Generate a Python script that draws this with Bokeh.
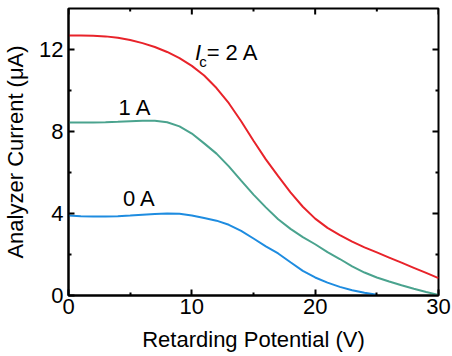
import math
from bokeh.plotting import figure
from bokeh.models import Range1d, Label, FixedTicker
from bokeh.embed import file_html
from bokeh.resources import INLINE

# Retarding potential (V)
v_2a = list(range(0, 31))
v_1a = list(range(0, 31))
v_0a = list(range(0, 26))

# Analyzer current (uA)
i_2a = [12.68, 12.68, 12.67, 12.64, 12.57, 12.46, 12.31, 12.12, 11.88, 11.58,
        11.2, 10.73, 10.12, 9.38, 8.5, 7.55, 6.64, 5.82, 5.03, 4.33,
        3.75, 3.3, 2.95, 2.63, 2.35, 2.1, 1.85, 1.6, 1.35, 1.1, 0.85]
i_1a = [8.44, 8.44, 8.44, 8.45, 8.47, 8.5, 8.53, 8.53, 8.45, 8.25,
        7.9, 7.42, 6.92, 6.3, 5.6, 4.92, 4.3, 3.72, 3.25, 2.85,
        2.5, 2.12, 1.78, 1.42, 1.12, 0.88, 0.68, 0.5, 0.33, 0.17, 0.03]
i_0a = [3.9, 3.87, 3.85, 3.85, 3.87, 3.9, 3.94, 3.98, 4.0, 3.99,
        3.9, 3.78, 3.65, 3.45, 3.15, 2.78, 2.4, 2.05, 1.62, 1.2,
        0.88, 0.63, 0.42, 0.26, 0.13, 0.04]

x_major = [0, 10, 20, 30]
x_minor = [5, 15, 25]
y_major = [0, 4, 8, 12]
y_minor = [2, 6, 10]

FONT = "Liberation Sans"
FS = "22px"
X0, X1, Y0, Y1 = 0, 30, 0, 14

p = figure(width=452, height=356, output_backend="svg", toolbar_location=None,
           x_range=Range1d(X0, X1), y_range=Range1d(Y0, Y1),
           min_border_left=68, min_border_right=14, min_border_top=8, min_border_bottom=61,
           x_axis_label="Retarding Potential (V)", y_axis_label="Analyzer Current (\u03bcA)")
p.xgrid.visible = False
p.ygrid.visible = False
p.outline_line_color = "black"
p.outline_line_width = 2
p.background_fill_color = "white"
p.border_fill_color = "white"

def style(ax, ticker):
    ax.ticker = ticker
    ax.axis_line_color = "black"
    ax.axis_line_width = 2
    ax.major_tick_in = 6
    ax.major_tick_out = 0
    ax.minor_tick_in = 3
    ax.minor_tick_out = 0
    ax.major_tick_line_width = 2
    ax.minor_tick_line_width = 2
    ax.major_label_text_font = FONT
    ax.major_label_text_font_size = FS
    ax.major_label_text_color = "black"
    ax.axis_label_text_font = FONT
    ax.axis_label_text_font_size = FS
    ax.axis_label_text_font_style = "normal"
    ax.axis_label_text_color = "black"

style(p.xaxis[0], FixedTicker(ticks=x_major, minor_ticks=x_minor))
style(p.yaxis[0], FixedTicker(ticks=y_major, minor_ticks=y_minor))
p.xaxis[0].major_label_standoff = 3
p.xaxis[0].axis_label_standoff = 10
p.yaxis[0].major_label_standoff = 5
p.yaxis[0].axis_label_standoff = 8

# inward ticks on the top and right frame edges
p.ray(x=x_major, y=[Y1] * len(x_major), length=6, length_units="screen",
      angle=-math.pi / 2, line_color="black", line_width=2)
p.ray(x=x_minor, y=[Y1] * len(x_minor), length=3, length_units="screen",
      angle=-math.pi / 2, line_color="black", line_width=2)
p.ray(x=[X1] * len(y_major), y=y_major, length=6, length_units="screen",
      angle=math.pi, line_color="black", line_width=2)
p.ray(x=[X1] * len(y_minor), y=y_minor, length=3, length_units="screen",
      angle=math.pi, line_color="black", line_width=2)

p.line(v_2a, i_2a, line_color="#e8232a", line_width=2)
p.line(v_1a, i_1a, line_color="#4aa38e", line_width=2)
p.line(v_0a, i_0a, line_color="#1e8ce0", line_width=2)

def lab(x, y, text, size=FS, style="normal", align="left"):
    p.add_layout(Label(x=x, y=y, text=text, text_font=FONT, text_font_size=size,
                       text_font_style=style, text_align=align,
                       text_baseline="alphabetic", text_color="black"))

lab(5.4, 9.18, "1 A", align="center")
lab(5.75, 4.74, "0 A", align="center")
lab(10.25, 11.86, "I", style="italic")
lab(10.6, 11.42, "c", size="15px")
lab(11.2, 11.86, "= 2 A")

html = file_html(p, INLINE)
open("out.html", "w").write(html)
